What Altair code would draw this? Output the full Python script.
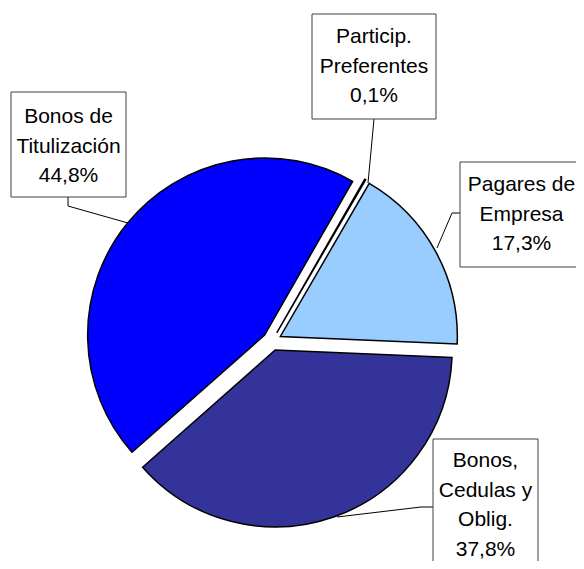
import math
import altair as alt
import pandas as pd

# ---------------- data ----------------
categories = ["Particip. Preferentes", "Pagares de Empresa",
              "Bonos, Cedulas y Oblig.", "Bonos de Titulización"]
shares = [0.1, 17.3, 37.8, 44.8]
slice_colors = ["#FFFFFF", "#99CCFF", "#333399", "#0000FF"]
label_lines = [["Particip.", "Preferentes"],
               ["Pagares de", "Empresa"],
               ["Bonos,", "Cedulas y", "Oblig."],
               ["Bonos de", "Titulización"]]

# ---------------- layout (page pixels) ----------------
W, H = 568, 553          # plot area; page margin 8px
CX, CY = 272, 341        # pie centre
R = 177                  # pie radius
EXPLODE = 9.5            # slice explosion distance
START = math.radians(29.8)
TOTAL = sum(shares)
boxes = [(312, 14, 436, 119), (460, 162, 583, 267),
         (433, 439, 538, 573), (11, 92, 126, 197)]
first_baseline = [43, 191, 467, 123]
leaders = [[(374, 119), (368, 183)],
           [(460, 213), (452, 213), (437, 248)],
           [(433, 507), (421, 507), (337, 517)],
           [(68, 197), (68, 206), (128, 223)]]
FONT = "Liberation Sans, Arial, sans-serif"

xs = alt.Scale(domain=[8, 8 + W], range=[0, W])
ys = alt.Scale(domain=[8, 8 + H], range=[0, H])

# ---------------- pie ----------------
pie_df = pd.DataFrame({"category": categories, "value": shares,
                       "idx": list(range(len(shares)))})

pie = (
    alt.Chart(pie_df)
    .transform_window(cum="sum(value)", sort=[alt.SortField("idx")], frame=[None, 0])
    .transform_calculate(t0="datum.cum - datum.value", t1="datum.cum")
    .transform_calculate(
        mid=f"{START} + 2*PI*(datum.cum - datum.value/2)/{TOTAL}")
    .transform_calculate(
        cx=f"{CX} + {EXPLODE}*sin(datum.mid)",
        cy=f"{CY} - {EXPLODE}*cos(datum.mid)")
    .mark_arc(outerRadius=R, stroke="black", strokeWidth=1.5)
    .encode(
        theta=alt.Theta("t0:Q", stack=None,
                        scale=alt.Scale(domain=[0, TOTAL], range=[START, START + 2 * math.pi],
                                        zero=True, nice=False)),
        theta2="t1:Q",
        x=alt.X("cx:Q", scale=xs, axis=None),
        y=alt.Y("cy:Q", scale=ys, axis=None),
        color=alt.Color("category:N", scale=alt.Scale(domain=categories, range=slice_colors),
                        legend=None),
    )
)

# ---------------- leader lines ----------------
lead_rows = []
for i, pts in enumerate(leaders):
    for j, (px, py) in enumerate(pts):
        lead_rows.append({"lab": i, "ord": j, "px": px, "py": py})
lead_df = pd.DataFrame(lead_rows)
lines = (
    alt.Chart(lead_df)
    .mark_line(color="black", strokeWidth=1)
    .encode(x=alt.X("px:Q", scale=xs, axis=None),
            y=alt.Y("py:Q", scale=ys, axis=None),
            detail="lab:N", order="ord:Q")
)

# ---------------- label boxes and text ----------------
lab_df = pd.DataFrame({
    "x0": [b[0] for b in boxes], "y0": [b[1] for b in boxes],
    "x1": [b[2] for b in boxes], "y1": [b[3] for b in boxes],
    "xc": [(b[0] + b[2]) / 2 for b in boxes],
    "yb": first_baseline,
    "text": [ln + [f"{v:.1f}%".replace(".", ",")] for ln, v in zip(label_lines, shares)],
})
rects = (
    alt.Chart(lab_df)
    .mark_rect(fill="white", stroke="#404040", strokeWidth=1)
    .encode(x=alt.X("x0:Q", scale=xs, axis=None), x2="x1:Q",
            y=alt.Y("y0:Q", scale=ys, axis=None), y2="y1:Q")
)
texts = (
    alt.Chart(lab_df)
    .mark_text(font=FONT, fontSize=21, lineHeight=29.5, align="center",
               baseline="alphabetic", color="black")
    .encode(x=alt.X("xc:Q", scale=xs, axis=None),
            y=alt.Y("yb:Q", scale=ys, axis=None),
            text="text")
)

chart = (
    alt.layer(lines, pie, rects, texts)
    .properties(width=W, height=H, padding=0, background="white",
                autosize=alt.AutoSizeParams(type="none"))
    .configure_view(stroke=None)
)

chart.save("out.html", embed_options={"renderer": "svg", "actions": False})
